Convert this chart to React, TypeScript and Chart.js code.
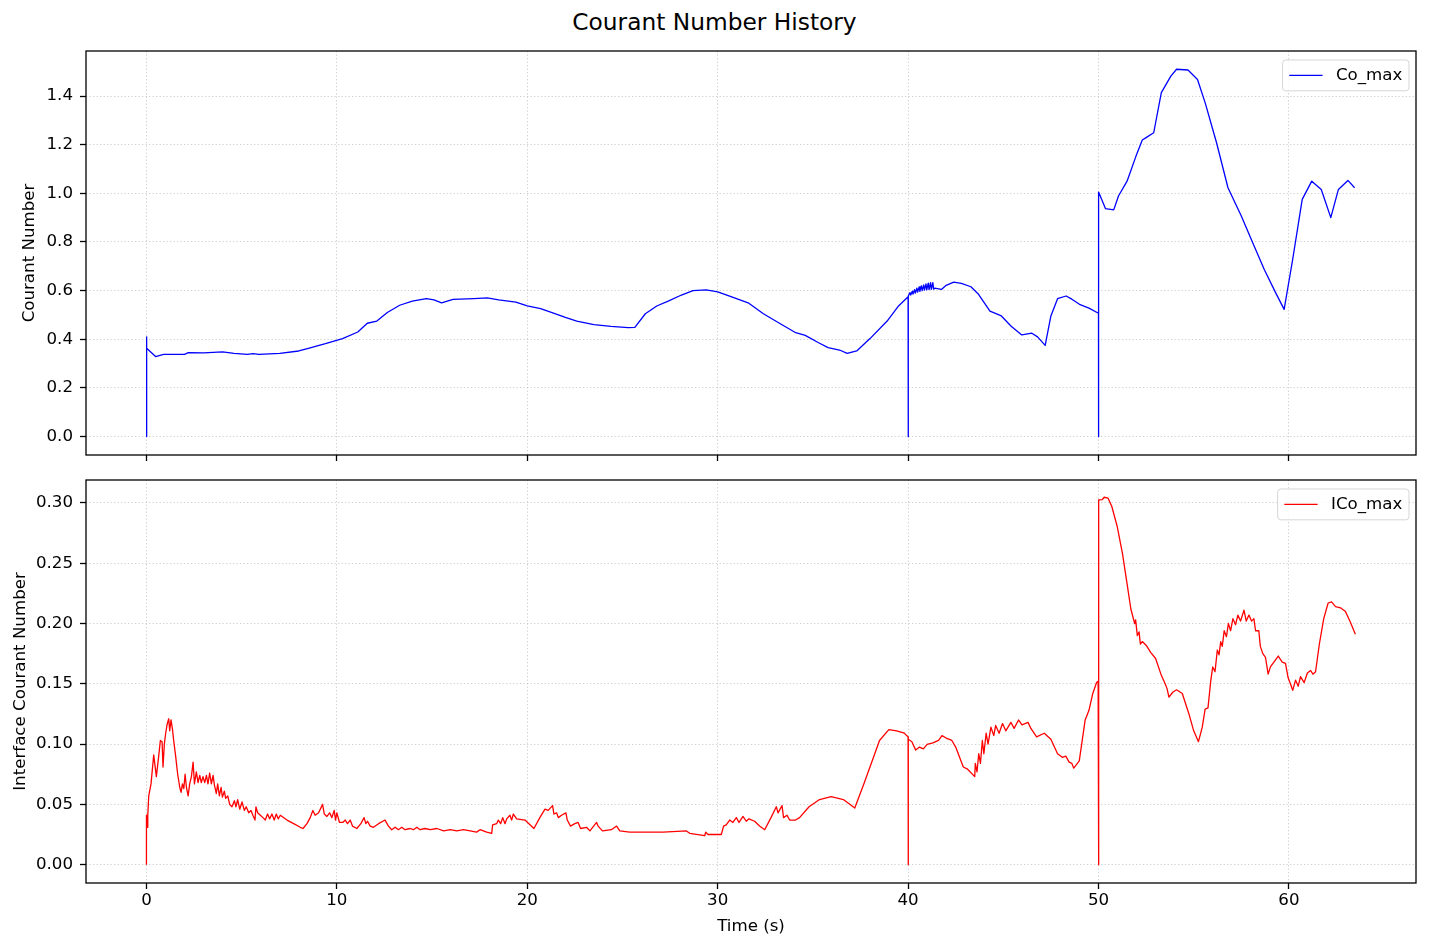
import React, { useEffect, useRef } from "react";
import { Chart, registerables } from "chart.js";

Chart.register(...registerables);

const FONT_FAMILY = "'DejaVu Sans', 'Liberation Sans', sans-serif";

const figureTitle = "Courant Number History";
const xAxisLabel = "Time (s)";
const coAxisLabel = "Courant Number";
const icoAxisLabel = "Interface Courant Number";
const coLabel = "Co_max";
const icoLabel = "ICo_max";

const timeTicks = [0, 10, 20, 30, 40, 50, 60];
const coTicks = [0, 0.2, 0.4, 0.6, 0.8, 1.0, 1.2, 1.4];
const icoTicks = [0, 0.05, 0.1, 0.15, 0.2, 0.25, 0.3];

// [time (s), Co_max]
const coMaxSeries: [number, number][] = [
  [0, 0], [0, 0.41], [0.02, 0.363], [0.48, 0.329], [0.9, 0.338], [2.0, 0.338],
  [2.2, 0.345], [3.0, 0.344], [4.0, 0.348], [4.6, 0.342], [5.3, 0.338], [5.6, 0.341],
  [5.9, 0.338], [7.0, 0.342], [8.0, 0.352], [8.5, 0.363], [9.4, 0.382], [10.3, 0.403],
  [11.1, 0.43], [11.6, 0.466], [12.1, 0.475], [12.65, 0.51], [13.3, 0.54], [13.96, 0.557],
  [14.7, 0.567], [15.1, 0.562], [15.5, 0.55], [16.1, 0.564], [17.2, 0.567], [17.9, 0.57],
  [18.5, 0.562], [19.4, 0.553], [20.0, 0.537], [20.7, 0.526], [21.3, 0.51], [22.0, 0.49],
  [22.6, 0.475], [23.5, 0.46], [24.4, 0.453], [25.3, 0.448], [25.65, 0.449], [26.2, 0.505],
  [26.8, 0.537], [27.4, 0.557], [28.1, 0.582], [28.7, 0.6], [29.4, 0.603], [30.0, 0.595],
  [30.7, 0.575], [31.6, 0.55], [32.4, 0.505], [33.2, 0.468], [34.1, 0.427], [34.6, 0.416],
  [35.3, 0.386], [35.8, 0.366], [36.4, 0.356], [36.8, 0.342], [37.3, 0.352], [38.0, 0.403],
  [38.9, 0.475], [39.5, 0.537], [40.0, 0.575], [40.0, 0], [40.02, 0.578], [40.1, 0.592],
  [40.14, 0.582], [40.22, 0.598], [40.26, 0.586], [40.34, 0.604], [40.38, 0.59], [40.46, 0.61],
  [40.5, 0.594], [40.58, 0.615], [40.62, 0.597], [40.7, 0.62], [40.74, 0.6], [40.82, 0.624],
  [40.86, 0.602], [40.94, 0.628], [40.98, 0.603], [41.06, 0.631], [41.1, 0.604], [41.18, 0.633],
  [41.22, 0.605], [41.3, 0.633], [41.34, 0.606], [41.4, 0.61], [41.75, 0.605], [42.0, 0.622],
  [42.4, 0.635], [42.8, 0.63], [43.3, 0.616], [43.7, 0.585], [44.3, 0.516], [44.9, 0.496],
  [45.4, 0.455], [45.97, 0.418], [46.5, 0.425], [46.8, 0.41], [47.2, 0.375], [47.5, 0.496],
  [47.85, 0.567], [48.3, 0.578], [48.6, 0.565], [49.0, 0.544], [49.5, 0.528], [50.0, 0.507],
  [50.0, 0], [50.01, 1.005], [50.37, 0.937], [50.8, 0.932], [51.05, 0.989], [51.5, 1.05],
  [51.97, 1.153], [52.3, 1.219], [52.5, 1.229], [52.9, 1.249], [53.3, 1.414], [53.8, 1.482],
  [54.1, 1.51], [54.7, 1.507], [55.2, 1.468], [55.6, 1.373], [56.2, 1.208], [56.8, 1.023],
  [57.5, 0.907], [58.1, 0.797], [58.7, 0.688], [59.3, 0.592], [59.75, 0.523], [60.2, 0.729],
  [60.7, 0.975], [61.2, 1.05], [61.7, 1.016], [62.2, 0.9], [62.6, 1.016], [63.1, 1.053],
  [63.45, 1.023],
];

// [time (s), ICo_max]
const icoMaxSeries: [number, number][] = [
  [0, 0], [0, 0.041], [0.03, 0.031], [0.07, 0.041], [0.12, 0.057], [0.24, 0.067],
  [0.38, 0.091], [0.52, 0.073], [0.65, 0.091], [0.73, 0.103], [0.82, 0.102], [0.87, 0.081],
  [0.94, 0.1], [1.01, 0.109], [1.08, 0.116], [1.17, 0.121], [1.22, 0.111], [1.29, 0.12],
  [1.36, 0.113], [1.43, 0.103], [1.54, 0.089], [1.64, 0.075], [1.75, 0.064], [1.82, 0.06],
  [1.89, 0.067], [1.96, 0.063], [2.03, 0.075], [2.1, 0.064], [2.19, 0.057], [2.27, 0.067],
  [2.36, 0.073], [2.45, 0.085], [2.52, 0.067], [2.62, 0.077], [2.71, 0.068], [2.8, 0.074],
  [2.88, 0.068], [2.97, 0.073], [3.06, 0.068], [3.15, 0.074], [3.23, 0.067], [3.32, 0.076],
  [3.41, 0.067], [3.5, 0.074], [3.57, 0.066], [3.67, 0.059], [3.74, 0.067], [3.83, 0.057],
  [3.92, 0.064], [3.99, 0.056], [4.09, 0.061], [4.16, 0.055], [4.27, 0.057], [4.37, 0.05],
  [4.49, 0.048], [4.62, 0.053], [4.7, 0.048], [4.79, 0.054], [4.9, 0.046], [5.02, 0.052],
  [5.14, 0.045], [5.24, 0.048], [5.37, 0.043], [5.49, 0.045], [5.59, 0.041], [5.7, 0.037],
  [5.75, 0.048], [5.84, 0.043], [5.98, 0.041], [6.12, 0.039], [6.24, 0.037], [6.36, 0.042],
  [6.47, 0.038], [6.59, 0.042], [6.71, 0.037], [6.82, 0.042], [6.92, 0.038], [7.03, 0.041],
  [7.38, 0.037], [7.73, 0.034], [8.08, 0.031], [8.22, 0.03], [8.43, 0.034], [8.6, 0.039],
  [8.74, 0.045], [8.86, 0.041], [9.04, 0.043], [9.25, 0.05], [9.34, 0.042], [9.48, 0.04],
  [9.62, 0.043], [9.74, 0.039], [9.86, 0.045], [9.93, 0.037], [10.0, 0.043], [10.14, 0.035],
  [10.31, 0.035], [10.44, 0.037], [10.56, 0.034], [10.7, 0.037], [10.82, 0.032], [11.05, 0.03],
  [11.26, 0.034], [11.43, 0.039], [11.52, 0.034], [11.61, 0.036], [11.75, 0.032], [11.92, 0.031],
  [12.19, 0.034], [12.53, 0.037], [12.71, 0.032], [12.88, 0.029], [13.06, 0.031], [13.23, 0.029],
  [13.41, 0.031], [13.58, 0.029], [13.85, 0.03], [14.02, 0.029], [14.2, 0.031], [14.37, 0.029],
  [14.63, 0.03], [14.9, 0.029], [15.26, 0.03], [15.61, 0.028], [15.96, 0.029], [16.3, 0.028],
  [16.65, 0.029], [17.0, 0.028], [17.34, 0.027], [17.52, 0.029], [17.87, 0.027], [18.13, 0.026],
  [18.18, 0.033], [18.39, 0.034], [18.48, 0.037], [18.6, 0.034], [18.71, 0.039], [18.83, 0.034],
  [18.92, 0.038], [19.09, 0.041], [19.18, 0.037], [19.27, 0.042], [19.44, 0.038], [19.88, 0.037],
  [20.35, 0.03], [20.66, 0.039], [20.93, 0.046], [21.1, 0.045], [21.33, 0.049], [21.4, 0.042],
  [21.54, 0.043], [21.63, 0.039], [21.8, 0.041], [22.03, 0.043], [22.1, 0.037], [22.27, 0.032],
  [22.5, 0.034], [22.67, 0.035], [22.8, 0.03], [23.11, 0.031], [23.29, 0.028], [23.64, 0.035],
  [23.72, 0.032], [23.95, 0.028], [24.42, 0.029], [24.69, 0.032], [24.86, 0.028], [25.38, 0.027],
  [27.13, 0.027], [28.36, 0.028], [28.53, 0.026], [29.32, 0.024], [29.37, 0.027], [29.49, 0.025],
  [30.02, 0.025], [30.19, 0.025], [30.31, 0.032], [30.45, 0.033], [30.63, 0.037], [30.8, 0.035],
  [30.98, 0.039], [31.12, 0.035], [31.33, 0.04], [31.5, 0.036], [31.64, 0.038], [31.94, 0.036],
  [32.2, 0.032], [32.47, 0.029], [32.8, 0.039], [33.08, 0.048], [33.17, 0.043], [33.38, 0.049],
  [33.46, 0.039], [33.64, 0.041], [33.78, 0.037], [34.09, 0.037], [34.3, 0.039], [34.8, 0.048],
  [35.35, 0.054], [35.96, 0.0565], [36.6, 0.054], [37.2, 0.047], [37.7, 0.068], [38.5, 0.103],
  [38.99, 0.112], [39.4, 0.111], [39.8, 0.109], [40.0, 0.106], [40.0, 0], [40.02, 0.104],
  [40.2, 0.102], [40.4, 0.095], [40.6, 0.0975], [40.8, 0.096], [41.0, 0.0997], [41.3, 0.101],
  [41.6, 0.103], [41.78, 0.107], [42.0, 0.105], [42.3, 0.103], [42.5, 0.0975], [42.9, 0.081],
  [43.1, 0.0795], [43.5, 0.073], [43.53, 0.084], [43.62, 0.077], [43.71, 0.092], [43.8, 0.084],
  [43.9, 0.103], [43.98, 0.092], [44.1, 0.109], [44.2, 0.1], [44.35, 0.114], [44.5, 0.107],
  [44.6, 0.1155], [44.78, 0.109], [44.96, 0.117], [45.13, 0.111], [45.4, 0.118], [45.57, 0.113],
  [45.8, 0.12], [45.98, 0.116], [46.3, 0.118], [46.45, 0.113], [46.75, 0.106], [47.15, 0.109],
  [47.5, 0.104], [47.85, 0.092], [48.1, 0.089], [48.28, 0.09], [48.46, 0.085], [48.6, 0.084],
  [48.7, 0.08], [48.99, 0.086], [49.3, 0.12], [49.5, 0.128], [49.7, 0.142], [49.9, 0.151],
  [49.98, 0.152], [50.0, 0], [50.02, 0.3025], [50.2, 0.3028], [50.3, 0.3047], [50.5, 0.304],
  [50.7, 0.297], [50.99, 0.28], [51.26, 0.258], [51.5, 0.233], [51.7, 0.212], [51.9, 0.2],
  [51.95, 0.203], [52.04, 0.19], [52.13, 0.193], [52.2, 0.183], [52.3, 0.185], [52.5, 0.182],
  [52.74, 0.176], [53.0, 0.171], [53.3, 0.157], [53.5, 0.15], [53.6, 0.146], [53.7, 0.139],
  [53.9, 0.143], [54.1, 0.145], [54.4, 0.142], [54.75, 0.125], [55.0, 0.111], [55.25, 0.102],
  [55.45, 0.114], [55.6, 0.129], [55.75, 0.13], [55.9, 0.153], [56.0, 0.164], [56.12, 0.16],
  [56.24, 0.178], [56.33, 0.174], [56.42, 0.185], [56.5, 0.181], [56.6, 0.194], [56.72, 0.189],
  [56.82, 0.2], [56.94, 0.194], [57.06, 0.204], [57.2, 0.199], [57.32, 0.207], [57.46, 0.202],
  [57.64, 0.211], [57.76, 0.202], [57.9, 0.207], [58.04, 0.202], [58.16, 0.204], [58.25, 0.194],
  [58.42, 0.194], [58.5, 0.181], [58.63, 0.175], [58.77, 0.172], [58.91, 0.158], [59.03, 0.164],
  [59.21, 0.168], [59.44, 0.173], [59.65, 0.168], [59.82, 0.167], [59.96, 0.155], [60.08, 0.15],
  [60.2, 0.1446], [60.35, 0.153], [60.49, 0.148], [60.61, 0.156], [60.8, 0.151], [60.97, 0.159],
  [61.14, 0.161], [61.26, 0.158], [61.4, 0.16], [61.6, 0.183], [61.83, 0.204], [62.06, 0.217],
  [62.24, 0.218], [62.45, 0.214], [62.71, 0.213], [62.97, 0.21], [63.23, 0.201], [63.49, 0.191],
];

const X_MIN = -3.175;
const X_MAX = 66.675;
const CO_MIN = -0.0755;
const CO_MAX = 1.585;
const ICO_MIN = -0.0152;
const ICO_MAX = 0.319;

const FS = 16.67;
const tickFont = { family: FONT_FAMILY, size: FS, lineHeight: 1.2 };

const gridOpts = {
  color: "rgba(176,176,176,0.6)",
  lineWidth: 1,
  drawTicks: true,
  tickLength: 6,
  tickColor: "#000000",
  tickWidth: 1.3,
  tickBorderDash: [],
};
const borderOpts = { display: false, dash: [1.3, 2.2] };

const mplPlugin = {
  id: "mplFrameLegend",
  afterDraw(chart: any) {
    const { ctx, chartArea: a } = chart;
    ctx.save();
    ctx.strokeStyle = "#000000";
    ctx.lineWidth = 1.3;
    ctx.strokeRect(a.left, a.top, a.right - a.left, a.bottom - a.top);

    const ds = chart.data.datasets[0];
    ctx.font = `${FS}px ${FONT_FAMILY}`;
    const tw = ctx.measureText(ds.label).width;
    const pad = 0.4 * FS;
    const handle = 2 * FS;
    const gap = 0.8 * FS;
    const axpad = 7;
    const w = pad * 2 + handle + gap + tw;
    const h = pad * 2 + FS * 1.05;
    const x0 = a.right - axpad - w;
    const y0 = a.top + 9;
    const r = 0.2 * FS;
    ctx.beginPath();
    ctx.moveTo(x0 + r, y0);
    ctx.lineTo(x0 + w - r, y0);
    ctx.quadraticCurveTo(x0 + w, y0, x0 + w, y0 + r);
    ctx.lineTo(x0 + w, y0 + h - r);
    ctx.quadraticCurveTo(x0 + w, y0 + h, x0 + w - r, y0 + h);
    ctx.lineTo(x0 + r, y0 + h);
    ctx.quadraticCurveTo(x0, y0 + h, x0, y0 + h - r);
    ctx.lineTo(x0, y0 + r);
    ctx.quadraticCurveTo(x0, y0, x0 + r, y0);
    ctx.closePath();
    ctx.fillStyle = "rgba(255,255,255,0.8)";
    ctx.fill();
    ctx.strokeStyle = "rgba(204,204,204,0.8)";
    ctx.lineWidth = 1;
    ctx.stroke();

    const ym = y0 + h / 2;
    ctx.beginPath();
    ctx.moveTo(x0 + pad, ym);
    ctx.lineTo(x0 + pad + handle, ym);
    ctx.strokeStyle = ds.borderColor;
    ctx.lineWidth = ds.borderWidth;
    ctx.stroke();

    ctx.fillStyle = "#000000";
    ctx.textBaseline = "middle";
    ctx.textAlign = "left";
    ctx.fillText(ds.label, x0 + pad + handle + gap, ym);
    ctx.restore();
  },
};

function makeConfig(opts: {
  label: string;
  series: [number, number][];
  color: string;
  yMin: number;
  yMax: number;
  yTicks: number[];
  decimals: number;
  yTitle: string;
  yTitlePad: number;
  padTop: number;
  xHeight: number;
  showX: boolean;
}) {
  return {
    type: "line" as const,
    data: {
      datasets: [
        {
          label: opts.label,
          data: opts.series.map(([x, y]) => ({ x, y })),
          borderColor: opts.color,
          borderWidth: 1.3,
          pointRadius: 0,
          tension: 0,
          fill: false,
          borderJoinStyle: "round" as const,
        },
      ],
    },
    options: {
      animation: false as const,
      responsive: false,
      events: [] as any[],
      layout: { padding: { top: opts.padTop, right: 13, left: 0, bottom: 0 } },
      plugins: {
        legend: { display: false },
        tooltip: { enabled: false },
        title: { display: false },
      },
      scales: {
        x: {
          type: "linear" as const,
          min: X_MIN,
          max: X_MAX,
          afterBuildTicks: (s: any) => {
            s.ticks = timeTicks.map((v) => ({ value: v }));
          },
          afterFit: (s: any) => {
            s.height = opts.xHeight;
            s.paddingLeft = 0;
            s.paddingRight = 0;
            s.paddingTop = 0;
            s.paddingBottom = 0;
          },
          ticks: {
            display: opts.showX,
            font: tickFont,
            color: "#000000",
            padding: 2,
            maxRotation: 0,
            callback: (v: any) => String(v),
          },
          title: {
            display: opts.showX,
            text: xAxisLabel,
            font: tickFont,
            color: "#000000",
            padding: { top: 0, bottom: 12 },
          },
          grid: gridOpts,
          border: borderOpts,
        },
        y: {
          type: "linear" as const,
          min: opts.yMin,
          max: opts.yMax,
          afterBuildTicks: (s: any) => {
            s.ticks = opts.yTicks.map((v) => ({ value: v }));
          },
          afterFit: (s: any) => {
            s.width = 86;
            s.paddingLeft = 0;
            s.paddingRight = 0;
            s.paddingTop = 0;
            s.paddingBottom = 0;
          },
          ticks: {
            font: tickFont,
            color: "#000000",
            padding: 7,
            callback: (v: any) => Number(v).toFixed(opts.decimals),
          },
          title: {
            display: true,
            text: opts.yTitle,
            font: tickFont,
            color: "#000000",
            padding: { top: opts.yTitlePad, bottom: 0 },
          },
          grid: gridOpts,
          border: borderOpts,
        },
      },
    },
    plugins: [mplPlugin],
  };
}

export default function App() {
  const topRef = useRef<HTMLCanvasElement | null>(null);
  const bottomRef = useRef<HTMLCanvasElement | null>(null);

  useEffect(() => {
    const charts: Chart[] = [];
    if (topRef.current) {
      charts.push(
        new Chart(
          topRef.current,
          makeConfig({
            label: coLabel,
            series: coMaxSeries,
            color: "#0000ff",
            yMin: CO_MIN,
            yMax: CO_MAX,
            yTicks: coTicks,
            decimals: 1,
            yTitle: coAxisLabel,
            yTitlePad: 20,
            padTop: 51,
            xHeight: 15,
            showX: false,
          }) as any
        )
      );
    }
    if (bottomRef.current) {
      charts.push(
        new Chart(
          bottomRef.current,
          makeConfig({
            label: icoLabel,
            series: icoMaxSeries,
            color: "#ff0000",
            yMin: ICO_MIN,
            yMax: ICO_MAX,
            yTicks: icoTicks,
            decimals: 2,
            yTitle: icoAxisLabel,
            yTitlePad: 10.5,
            padTop: 10,
            xHeight: 66,
            showX: true,
          }) as any
        )
      );
    }
    return () => {
      charts.forEach((c) => c.destroy());
    };
  }, []);

  return (
    <div
      style={{
        position: "absolute",
        left: 0,
        top: 0,
        width: 1429,
        height: 949,
        background: "#ffffff",
        overflow: "hidden",
      }}
    >
      <div
        style={{
          position: "absolute",
          left: 0,
          top: 10.3,
          width: 1429,
          textAlign: "center",
          fontFamily: FONT_FAMILY,
          fontSize: 23.3,
          lineHeight: 1,
          color: "#000000",
          whiteSpace: "nowrap",
        }}
      >
        {figureTitle}
      </div>
      <canvas
        ref={topRef}
        width={1429}
        height={470}
        style={{ position: "absolute", left: 0, top: 0 }}
      />
      <canvas
        ref={bottomRef}
        width={1429}
        height={479}
        style={{ position: "absolute", left: 0, top: 470 }}
      />
    </div>
  );
}
